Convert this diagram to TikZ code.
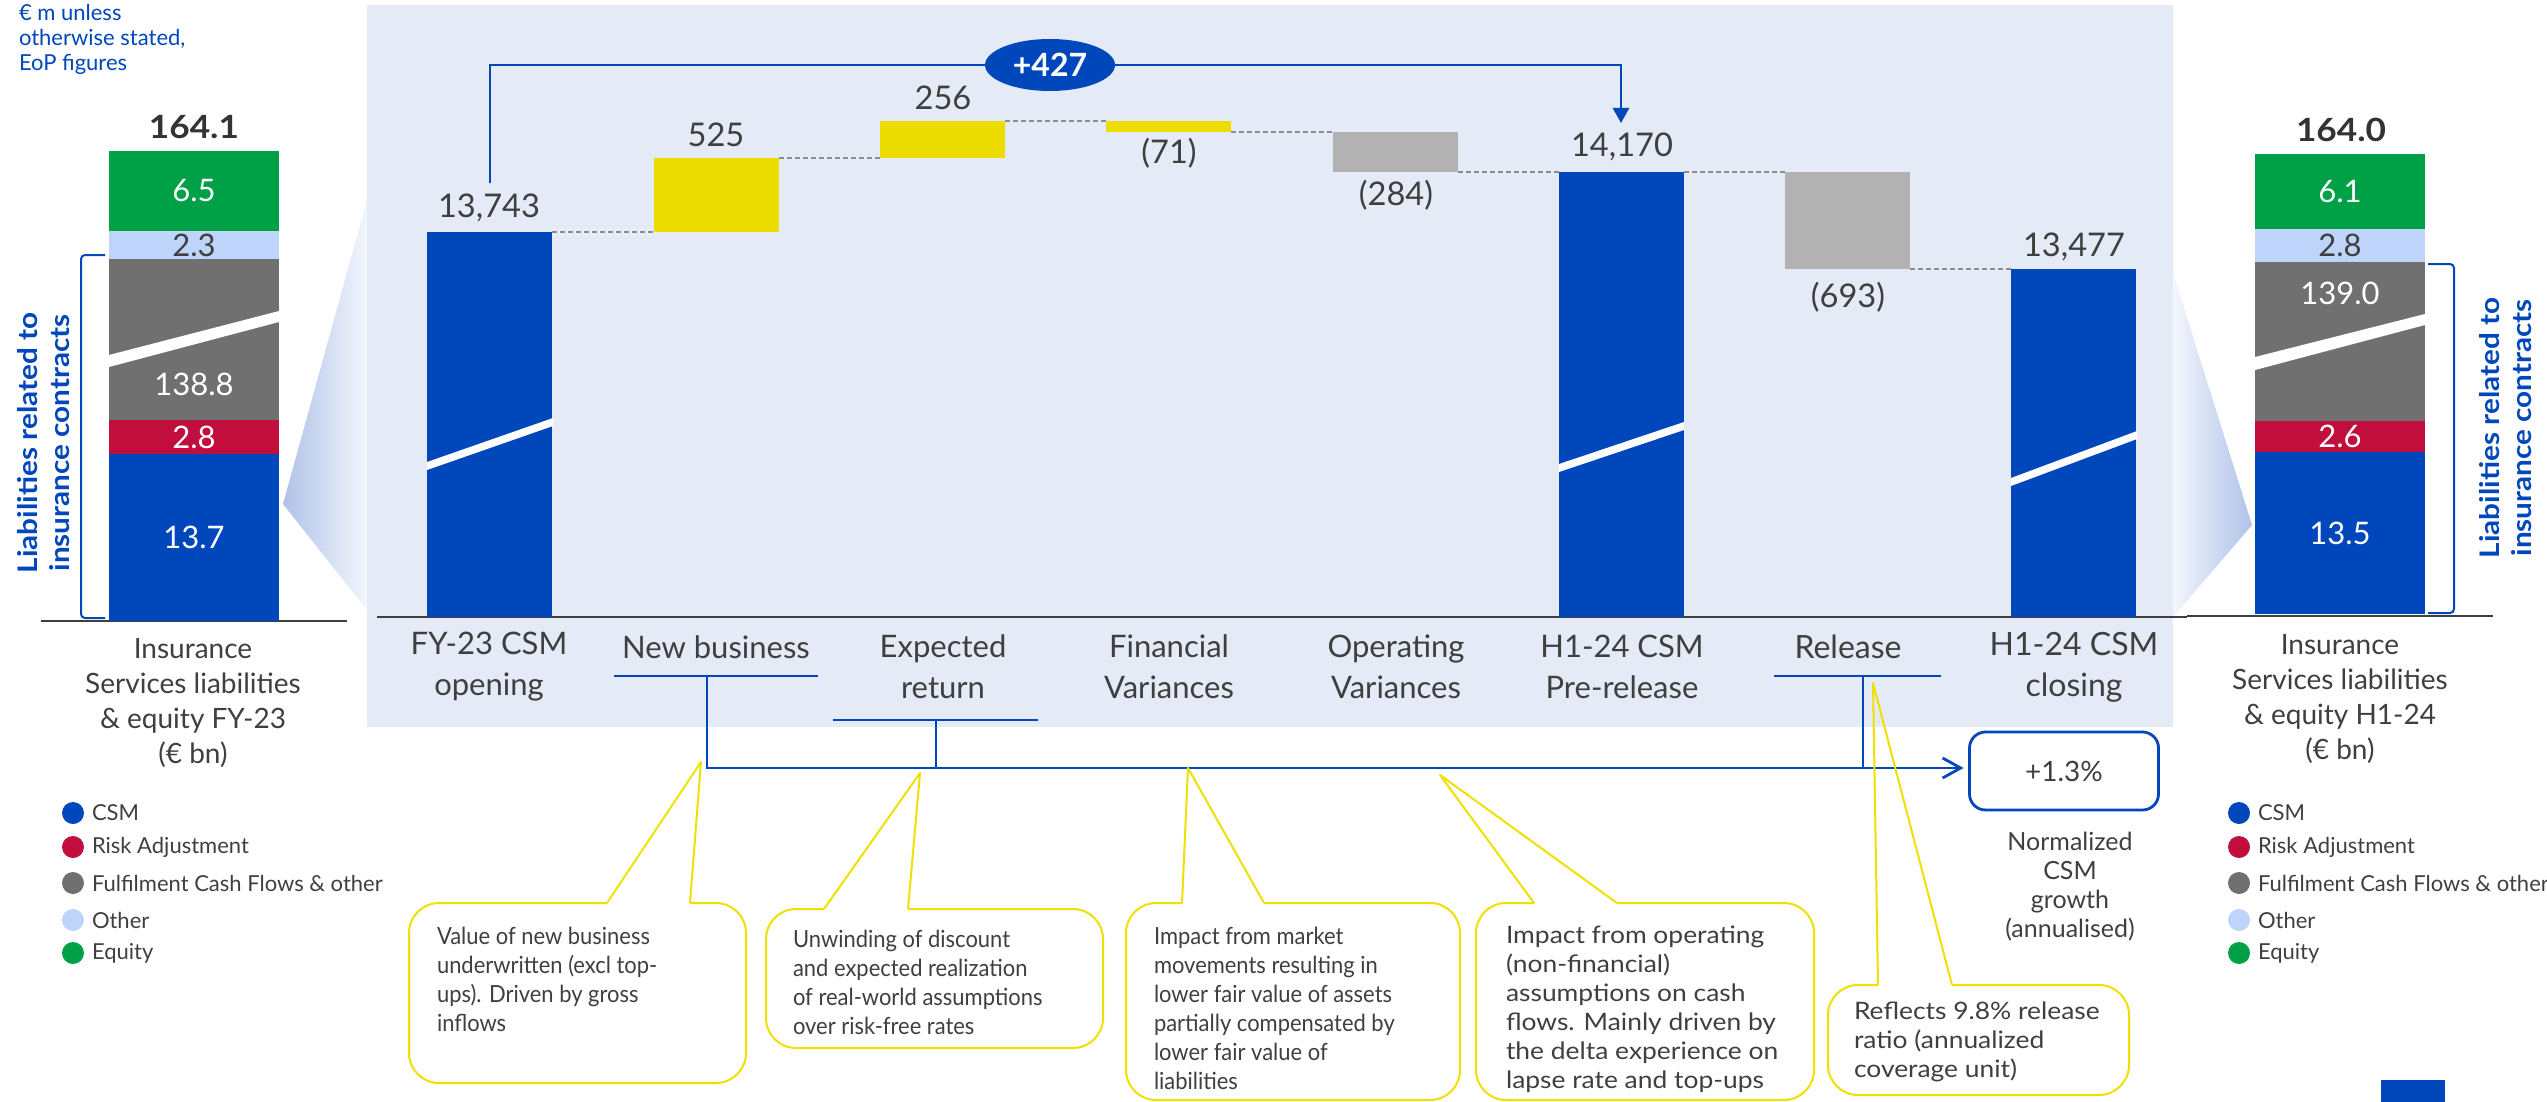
\documentclass[tikz,border=0pt]{standalone}
\usepackage{fontspec}
\setmainfont{Lato}
\newfontfamily\widefont[FakeStretch=1.1]{Lato}
\newfontfamily\condfont[FakeStretch=0.93]{Lato}
\usetikzlibrary{arrows.meta,shapes.geometric}
\definecolor{gblue}{HTML}{0047BB}
\definecolor{gyellow}{HTML}{EDDC00}
\definecolor{ggray}{HTML}{B2B2B2}
\definecolor{gdark}{HTML}{707070}
\definecolor{gred}{HTML}{C10E3C}
\definecolor{glight}{HTML}{BED4FA}
\definecolor{ggreen}{HTML}{00A047}
\definecolor{panel}{HTML}{E4EAF6}
\definecolor{txt}{HTML}{3F3F3F}
\definecolor{callY}{HTML}{F0E000}
\definecolor{funnel}{HTML}{AFC2E8}
\definecolor{fadew}{HTML}{F3F6FC}
\newcommand\fsz[2]{\fontsize{#1}{#2}\selectfont}
\begin{document}
\begin{tikzpicture}[x=0.5pt,y=-0.5pt,
  every node/.style={inner sep=0pt, outer sep=0pt, text=txt},
  bar/.style={anchor=north west, minimum width=62.5pt},
  seg/.style={anchor=north west, minimum width=85pt},
  cat/.style={font=\fsz{15.5}{20.5}, align=center},
  catw/.style={font=\fsz{16}{20.5}, align=center},
  val/.style={font=\fsz{16.3}{19}},
  sval/.style={font=\fsz{15.5}{18}, text=white},
  side/.style={font=\fsz{14}{17.5}, align=center},
  leg/.style={font=\fsz{11}{12}, anchor=west},
  dot/.style={circle, minimum size=11pt},
  bl/.style={draw=gblue, line width=1.4pt},
  wfconn/.style={draw=gray!90, line width=0.75pt, dash pattern=on 2.5pt off 1.5pt},
  callbox/.style={draw=callY, line width=1pt, rounded corners=15pt},
  callptr/.style={draw=callY, line width=1pt, line join=round},
  ctext/.style={font=\condfont\fsz{11.8}{14.5}, align=left, anchor=north west},
  ctextw/.style={font=\widefont\fsz{12}{14.5}, align=left, anchor=north west},
  rot/.style={rotate=90, font=\widefont\bfseries\fsz{13.5}{16}, text=gblue, align=center},
  total/.style={font=\widefont\bfseries\fsz{16}{18}, text=black!80},
]
\useasboundingbox (0,0) rectangle (2547,1102);

% funnels
\shade[left color=funnel, right color=fadew] (283,504) -- (367,200) -- (367,610) -- cycle;
\shade[left color=fadew, right color=funnel] (2252,525) -- (2173,273) -- (2173,617) -- cycle;

% panel
\fill[panel] (367,5) rectangle (2173,727);

% axes
\draw[txt, line width=1pt] (41,621) -- (347,621);
\draw[txt, line width=1pt] (377,617) -- (2187,617);
\draw[txt, line width=1pt] (2187,616) -- (2493,616);

% top-left note
\node[anchor=west, align=left, font=\fsz{11}{12.5}, text=gblue] (note) at (19,39) {€ m unless\\otherwise stated,\\EoP figures};

% left stacked bar
\node[total] (tl) at (194,127) {164.1};
\node[seg, fill=ggreen, minimum height=40pt, sval] (l1) at (109,151) {6.5};
\node[seg, fill=glight, minimum height=14pt, sval, text=txt] (l2) at (109,231) {2.3};
\node[seg, fill=gdark, minimum height=80.5pt] (l3) at (109,259) {};
\node[seg, fill=gred, minimum height=17pt, sval] (l4) at (109,420) {2.8};
\node[seg, fill=gblue, minimum height=83.5pt, sval] (l5) at (109,454) {13.7};
\fill[white] (109,355) -- (279,311) -- (279,322) -- (109,367) -- cycle;
\node[sval] (l3t) at (194,384) {138.8};
\draw[gblue, line width=1pt, rounded corners=2pt] (105,255) -- (81,255) -- (81,618) -- (105,618);
\node[rot] (rl) at (44,443) {Liabilities related to\\insurance contracts};
\node[side] (sl) at (193,703) {Insurance\\Services liabilities\\\& equity FY-23\\(€ bn)};

% right stacked bar
\node[total] (tr) at (2341,130) {164.0};
\node[seg, fill=ggreen, minimum height=37.5pt, sval] (r1) at (2255,154) {6.1};
\node[seg, fill=glight, minimum height=16.5pt, sval, text=txt] (r2) at (2255,229) {2.8};
\node[seg, fill=gdark, minimum height=79.5pt] (r3) at (2255,262) {};
\node[seg, fill=gred, minimum height=15.5pt, sval] (r4) at (2255,421) {2.6};
\node[seg, fill=gblue, minimum height=81pt, sval] (r5) at (2255,452) {13.5};
\fill[white] (2255,357) -- (2425,314) -- (2425,325) -- (2255,370) -- cycle;
\node[sval] (r3t) at (2340,293) {139.0};
\draw[gblue, line width=1pt, rounded corners=2pt] (2428,264) -- (2454,264) -- (2454,613) -- (2428,613);
\node[rot] (rr) at (2506,428) {Liabilities related to\\insurance contracts};
\node[side] (sr) at (2340,699) {Insurance\\Services liabilities\\\& equity H1-24\\(€ bn)};

% legends
\foreach \n/\c/\t/\y in {1/gblue/CSM/813, 2/gred/Risk Adjustment/847, 3/gdark/Fulfilment Cash Flows \& other/883, 4/glight/Other/920, 5/ggreen/Equity/953}{
  \node[dot, fill=\c] (ld\n) at (73,\y) {};
  \node[leg] (lt\n) at (92,\y) {\t};
  \node[dot, fill=\c] (rd\n) at (2239,\y) {};
  \node[leg] (rt\n) at (2258,\y) {\t};
}

% waterfall bars
\node[bar, fill=gblue, minimum height=192.5pt] (b1) at (427,232) {};
\node[bar, fill=gyellow, minimum height=37pt] (b2) at (654,158) {};
\node[bar, fill=gyellow, minimum height=18.5pt] (b3) at (880,121) {};
\node[bar, fill=gyellow, minimum height=5.5pt] (b4) at (1106,121) {};
\node[bar, fill=ggray, minimum height=20pt] (b5) at (1333,132) {};
\node[bar, fill=gblue, minimum height=222.5pt] (b6) at (1559,172) {};
\node[bar, fill=ggray, minimum height=48.5pt] (b7) at (1785,172) {};
\node[bar, fill=gblue, minimum height=174pt] (b8) at (2011,269) {};
\fill[white] (427,462) -- (553,418) -- (553,426) -- (427,470) -- cycle;
\fill[white] (1559,464) -- (1684,422) -- (1684,430) -- (1559,472) -- cycle;
\fill[white] (2011,478) -- (2137,431) -- (2137,439) -- (2011,486) -- cycle;

\draw[wfconn] (b1.north east) -- (b2.south west);
\draw[wfconn] (b2.north east) -- (b3.south west);
\draw[wfconn] (b3.north east) -- (b4.north west);
\draw[wfconn] (b4.south east) -- (b5.north west);
\draw[wfconn] (b5.south east) -- (b6.north west);
\draw[wfconn] (b6.north east) -- (b7.north west);
\draw[wfconn] (b7.south east) -- (b8.north west);

% values
\node[val] (v1) at (489,208) {13,743};
\node[val] (v2) at (716,135) {525};
\node[val] (v3) at (943,98) {256};
\node[val] (v4) at (1169,153) {(71)};
\node[val] (v5) at (1396,195) {(284)};
\node[val] (v6) at (1622,147) {14,170};
\node[val] (v7) at (1848,297) {(693)};
\node[val] (v8) at (2074,247) {13,477};

% categories
\node[cat] (c1) at (489,667) {FY-23 CSM\\opening};
\node[cat] (c2) at (716,647) {New business};
\node[cat] (c3) at (943,667) {Expected\\return};
\node[cat] (c4) at (1169,667) {Financial\\Variances};
\node[cat] (c5) at (1396,667) {Operating\\Variances};
\node[cat] (c6) at (1622,667) {H1-24 CSM\\Pre-release};
\node[catw] (c7) at (1848,647) {Release};
\node[catw] (c8) at (2074,667) {H1-24 CSM\\closing};

% +427 bracket
\node[ellipse, fill=gblue, minimum width=65pt, minimum height=26pt, font=\bfseries\fsz{16}{18}, text=white] (e427) at (1050,65) {+427};
\coordinate (s427) at (490,183);
\coordinate (a427) at (1621,123);
\draw[bl] (s427) |- (e427.west);
\draw[bl, -{Triangle[width=8pt,length=7.5pt]}] (e427.east) -| (a427);

% growth connector
\node[draw=gblue, line width=1.4pt, rounded corners=8pt, minimum width=94.5pt, minimum height=39pt, font=\fsz{14}{16}] (g13) at (2064,771) {+1.3\%};
\node[font=\fsz{12.5}{14.5}, align=center] (norm) at (2070,887) {Normalized\\CSM\\growth\\(annualised)};
\coordinate (nbL) at (614,676); \coordinate (nbR) at (818,676); \coordinate (nbA) at (707,676); \coordinate (nbB) at (707,768);
\coordinate (erL) at (833,720); \coordinate (erR) at (1038,720); \coordinate (erA) at (936,720); \coordinate (erB) at (936,768);
\coordinate (rlL) at (1774,676); \coordinate (rlR) at (1941,676); \coordinate (rlA) at (1863,676); \coordinate (rlB) at (1863,768);
\draw[bl] (nbL) -- (nbR);
\draw[bl] (erL) -- (erR);
\draw[bl] (rlL) -- (rlR);
\draw[bl] (erA) -- (erB);
\draw[bl] (rlA) -- (rlB);
\draw[bl, -{Straight Barb[length=9pt,width=10pt]}] (nbA) -- (nbB) -- ([xshift=-3pt]g13.west |- nbB);

% callouts
\coordinate (t1) at (701,762);
\coordinate (t2) at (920,773);
\coordinate (t3) at (1188,768);
\coordinate (t4) at (1440,775);
\coordinate (t5) at (1873,683);
\draw[callbox] (690,903) -- (746,903) -- (746,1083) -- (409,1083) -- (409,903) -- (607,903);
\draw[callptr] (607,903) -- (t1) -- (690,903);
\node[ctext] (k1) at (437,927) {Value of new business\\underwritten (excl top-\\ups). Driven by gross\\inflows};

\draw[callbox] (908,909) -- (1103,909) -- (1103,1048) -- (766,1048) -- (766,909) -- (824,909);
\draw[callptr] (824,909) -- (t2) -- (908,909);
\node[ctext] (k2) at (793,930) {Unwinding of discount\\and expected realization\\of real-world assumptions\\over risk-free rates};

\draw[callbox] (1264,903) -- (1460,903) -- (1460,1100) -- (1126,1100) -- (1126,903) -- (1182,903);
\draw[callptr] (1182,903) -- (t3) -- (1264,903);
\node[ctext] (k3) at (1154,927) {Impact from market\\movements resulting in\\lower fair value of assets\\partially compensated by\\lower fair value of\\liabilities};

\draw[callbox] (1617,903) -- (1814,903) -- (1814,1100) -- (1476,1100) -- (1476,903) -- (1534,903);
\draw[callptr] (1534,903) -- (t4) -- (1617,903);
\node[ctextw] (k4) at (1506,926) {Impact from operating\\(non-financial)\\assumptions on cash\\flows. Mainly driven by\\the delta experience on\\lapse rate and top-ups};

\draw[callbox] (1952,985) -- (2129,985) -- (2129,1095) -- (1828,1095) -- (1828,985) -- (1878,985);
\draw[callptr] (1878,985) -- (t5) -- (1952,985);
\node[ctextw] (k5) at (1854,1002) {Reflects 9.8\% release\\ratio (annualized\\coverage unit)};

% corner mark
\fill[gblue] (2381,1080) rectangle (2445,1102);
\end{tikzpicture}
\end{document}
